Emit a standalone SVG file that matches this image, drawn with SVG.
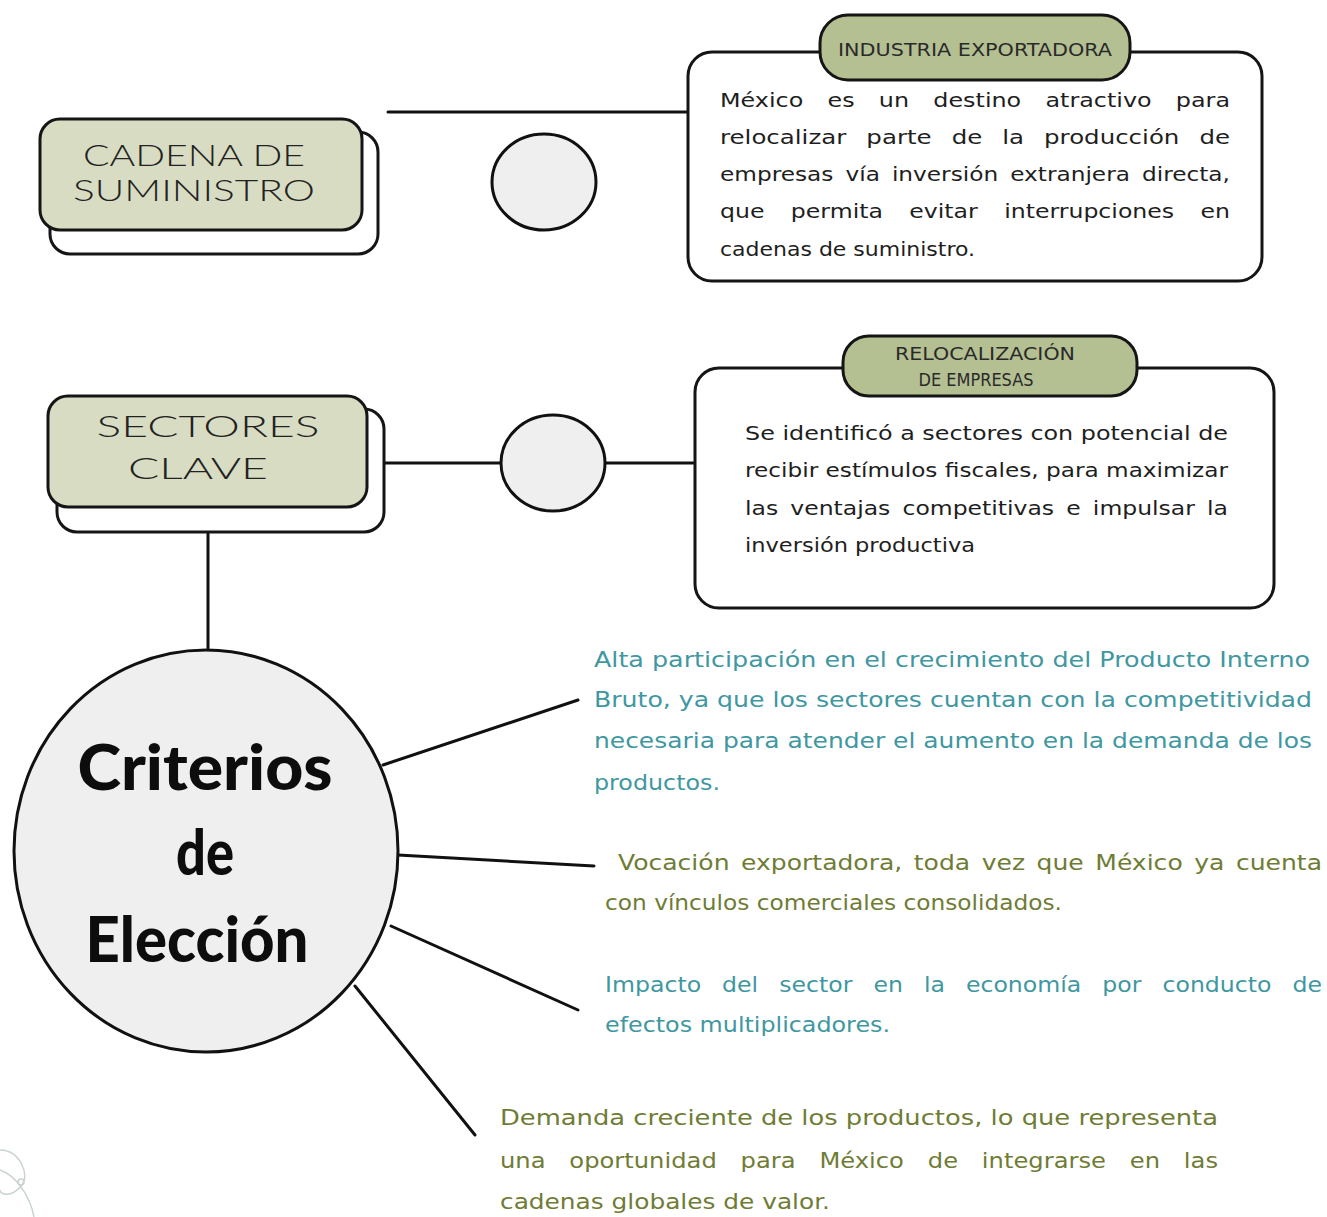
<svg xmlns="http://www.w3.org/2000/svg" width="1327" height="1217" viewBox="0 0 1327 1217">
<style>
.ln{stroke:#111;stroke-width:3;fill:none;stroke-linecap:round}
.box{fill:#fff;stroke:#151515;stroke-width:3}
.front{fill:#d8dcc3;stroke:#151515;stroke-width:3}
.pill{fill:#b4bf92;stroke:#151515;stroke-width:3}
.dot{fill:#efefef;stroke:#111;stroke-width:3}
.title{font-family:Lato,"Liberation Sans",sans-serif;font-weight:300;font-size:30px;fill:#222}
.hdr{font-family:"DejaVu Sans","Liberation Sans",sans-serif;font-size:17px;fill:#2a2a2a}
.body{font-family:"DejaVu Sans","Liberation Sans",sans-serif;font-size:20px;fill:#1e1e1e}
.teal{font-family:"DejaVu Sans","Liberation Sans",sans-serif;font-size:21px;fill:#3f97a2}
.olive{font-family:"DejaVu Sans","Liberation Sans",sans-serif;font-size:21px;fill:#6f7c35}
.big{font-family:Lato,"Liberation Sans",sans-serif;font-weight:900;font-size:62px;fill:#0d0d0d}
</style>
<rect width="1327" height="1217" fill="#ffffff"/>

<g id="connectors">
<line class="ln" x1="388" y1="112" x2="690" y2="112"/>
<line class="ln" x1="385" y1="463" x2="501" y2="463"/>
<line class="ln" x1="605" y1="463" x2="694" y2="463"/>
<line class="ln" x1="208" y1="532" x2="208" y2="648"/>
<line class="ln" x1="383" y1="765" x2="578" y2="700"/>
<line class="ln" x1="398" y1="855" x2="594" y2="866"/>
<line class="ln" x1="391" y1="926" x2="578" y2="1010"/>
<line class="ln" x1="355" y1="986" x2="475" y2="1135"/>
</g>

<g id="cadena">
<rect class="box" x="50" y="132" width="328" height="122" rx="20"/>
<rect class="front" x="40" y="119" width="322" height="111" rx="20"/>
<text class="title" x="194" y="166" text-anchor="middle" textLength="222" lengthAdjust="spacingAndGlyphs">CADENA DE</text>
<text class="title" x="194" y="201" text-anchor="middle" textLength="242" lengthAdjust="spacingAndGlyphs">SUMINISTRO</text>
</g>

<g id="circle1">
<ellipse class="dot" cx="544" cy="182" rx="52" ry="48"/>
</g>

<g id="industria">
<rect class="box" x="688" y="52" width="574" height="229" rx="24"/>
<rect class="pill" x="820" y="15" width="310" height="65" rx="28"/>
<text class="hdr" x="975" y="56" text-anchor="middle" textLength="274" lengthAdjust="spacingAndGlyphs">INDUSTRIA EXPORTADORA</text>
<text class="body" x="720" y="107" word-spacing="14" textLength="510" lengthAdjust="spacingAndGlyphs">México es un destino atractivo para</text>
<text class="body" x="720" y="144" word-spacing="10" textLength="510" lengthAdjust="spacingAndGlyphs">relocalizar parte de la producción de</text>
<text class="body" x="720" y="181" word-spacing="4" textLength="510" lengthAdjust="spacingAndGlyphs">empresas vía inversión extranjera directa,</text>
<text class="body" x="720" y="218" word-spacing="16" textLength="510" lengthAdjust="spacingAndGlyphs">que permita evitar interrupciones en</text>
<text class="body" x="720" y="256" textLength="255" lengthAdjust="spacingAndGlyphs">cadenas de suministro.</text>
</g>

<g id="sectores">
<rect class="box" x="57" y="409" width="327" height="123" rx="20"/>
<rect class="front" x="48" y="396" width="319" height="111" rx="20"/>
<text class="title" x="208" y="437" text-anchor="middle" font-size="34" textLength="223" lengthAdjust="spacingAndGlyphs">SECTORES</text>
<text class="title" x="198" y="479" text-anchor="middle" font-size="34" textLength="140" lengthAdjust="spacingAndGlyphs">CLAVE</text>
</g>

<g id="circle2">
<ellipse class="dot" cx="553" cy="463" rx="52" ry="48"/>
</g>

<g id="relocalizacion">
<rect class="box" x="695" y="368" width="579" height="240" rx="24"/>
<rect class="pill" x="843" y="336" width="294" height="60" rx="26"/>
<text class="hdr" x="985" y="360" text-anchor="middle" font-size="15" textLength="180" lengthAdjust="spacingAndGlyphs">RELOCALIZACIÓN</text>
<text class="hdr" x="976" y="386" text-anchor="middle" font-size="15" textLength="115" lengthAdjust="spacingAndGlyphs">DE EMPRESAS</text>
<text class="body" x="745" y="440" textLength="483" lengthAdjust="spacingAndGlyphs">Se identificó a sectores  con potencial de</text>
<text class="body" x="745" y="477" textLength="483" lengthAdjust="spacingAndGlyphs">recibir estímulos fiscales, para maximizar</text>
<text class="body" x="745" y="515" word-spacing="4" textLength="483" lengthAdjust="spacingAndGlyphs">las ventajas competitivas e impulsar la</text>
<text class="body" x="745" y="552" textLength="230" lengthAdjust="spacingAndGlyphs">inversión productiva</text>
</g>

<g id="criterios">
<ellipse class="dot" cx="206" cy="851" rx="192" ry="201"/>
<text class="big" x="205" y="790" text-anchor="middle" textLength="255" lengthAdjust="spacingAndGlyphs">Criterios</text>
<text class="big" x="205" y="875" text-anchor="middle" textLength="58" lengthAdjust="spacingAndGlyphs">de</text>
<text class="big" x="197" y="962" text-anchor="middle" textLength="223" lengthAdjust="spacingAndGlyphs">Elección</text>
</g>

<g id="criterio1">
<text class="teal" x="594" y="667" textLength="716" lengthAdjust="spacingAndGlyphs">Alta participación en el crecimiento del Producto Interno</text>
<text class="teal" x="594" y="707" textLength="718" lengthAdjust="spacingAndGlyphs">Bruto, ya que los sectores cuentan con la competitividad</text>
<text class="teal" x="594" y="748" textLength="718" lengthAdjust="spacingAndGlyphs">necesaria para atender el aumento en la demanda de los</text>
<text class="teal" x="594" y="790" textLength="126" lengthAdjust="spacingAndGlyphs">productos.</text>
</g>

<g id="criterio2">
<text class="olive" x="618" y="870" word-spacing="3" textLength="704" lengthAdjust="spacingAndGlyphs">Vocación exportadora, toda vez que México ya cuenta</text>
<text class="olive" x="605" y="910" textLength="457" lengthAdjust="spacingAndGlyphs">con vínculos comerciales consolidados.</text>
</g>

<g id="criterio3">
<text class="teal" x="605" y="992" word-spacing="12" textLength="717" lengthAdjust="spacingAndGlyphs">Impacto del sector en la economía por conducto de</text>
<text class="teal" x="605" y="1032" textLength="285" lengthAdjust="spacingAndGlyphs">efectos multiplicadores.</text>
</g>

<g id="criterio4">
<text class="olive" x="500" y="1125" textLength="718" lengthAdjust="spacingAndGlyphs">Demanda creciente de los productos, lo que representa</text>
<text class="olive" x="500" y="1168" word-spacing="14" textLength="718" lengthAdjust="spacingAndGlyphs">una oportunidad para México de integrarse en las</text>
<text class="olive" x="500" y="1209" textLength="330" lengthAdjust="spacingAndGlyphs">cadenas globales de valor.</text>
</g>

<g id="logo" fill="none" stroke="#c9d2d2" stroke-width="1.5">
<path d="M0 1150 C20 1150 30 1175 22 1185 C12 1198 0 1195 0 1190"/>
<path d="M0 1170 C15 1175 30 1195 34 1217"/>
<circle cx="21" cy="1182" r="3"/>
</g>
</svg>
